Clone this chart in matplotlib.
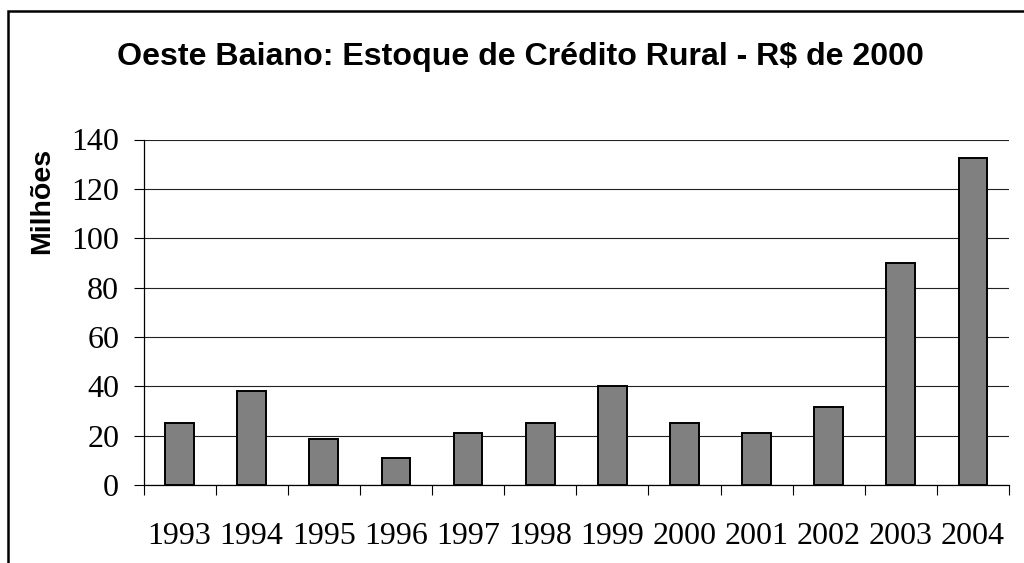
import matplotlib
matplotlib.use("Agg")
import matplotlib.pyplot as plt
from matplotlib.patches import Rectangle

years = ["1993", "1994", "1995", "1996", "1997", "1998", "1999",
         "2000", "2001", "2002", "2003", "2004"]
values = [25.0, 38.1, 18.6, 11.1, 20.9, 25.0, 40.2, 25.0, 20.9, 31.7, 89.8, 132.6]
yticks = [0, 20, 40, 60, 80, 100, 120, 140]
title = "Oeste Baiano: Estoque de Crédito Rural - R$ de 2000"
ylabel = "Milhões"

W, H = 1024, 563
fig = plt.figure(figsize=(W / 100, H / 100), dpi=100)
fig.patch.set_facecolor("white")

# chart border (extends beyond right and bottom edges)
fig.patches.append(Rectangle((8 / W, -0.1), 1.2, (H - 11.3) / H + 0.1,
                             transform=fig.transFigure, fill=False,
                             edgecolor="black", linewidth=1.8, zorder=0))

left, right, top, bottom = 143.5, 1009, 139.5, 485
ax = fig.add_axes([left / W, (H - bottom) / H, (right - left) / W, (bottom - top) / H])

x = list(range(len(years)))
ax.bar(x, values, width=0.4, color="#808080", edgecolor="black", linewidth=1.4, zorder=3)

ax.set_xlim(-0.5, len(years) - 0.5)
ax.set_ylim(0, 140)
ax.set_yticks(yticks)
ax.set_yticklabels([str(v) for v in yticks])
ax.yaxis.grid(True, color="#222222", linewidth=0.8, zorder=0)
ax.set_axisbelow(True)

ax.set_xticks([i - 0.5 for i in range(len(years) + 1)])
ax.set_xticklabels([])
ax.set_xticks(x, minor=True)
ax.set_xticklabels(years, minor=True)

serif = ["Liberation Serif", "DejaVu Serif"]
for lab in ax.get_yticklabels() + ax.get_xticklabels(minor=True):
    lab.set_fontfamily(serif)
    lab.set_fontsize(23)

ax.tick_params(axis="y", direction="out", length=7.5, width=0.8, pad=10, colors="black")
ax.tick_params(axis="x", which="major", direction="out", length=7.5, width=0.8)
ax.tick_params(axis="x", which="minor", length=0, pad=27)

for s in ["top", "right"]:
    ax.spines[s].set_visible(False)
for s in ["left", "bottom"]:
    ax.spines[s].set_linewidth(0.9)
    ax.spines[s].set_color("black")

fig.text(520.5 / W, 1 - 65 / H, title, ha="center", va="baseline",
         fontsize=23.1, fontweight="bold", family=["Liberation Sans", "DejaVu Sans"])
fig.text(42 / W, 1 - 201 / H, ylabel, ha="center", va="center", rotation=90,
         fontsize=20.5, fontweight="bold", family=["Liberation Sans", "DejaVu Sans"])

fig.savefig("out.png", dpi=100, facecolor="white")
